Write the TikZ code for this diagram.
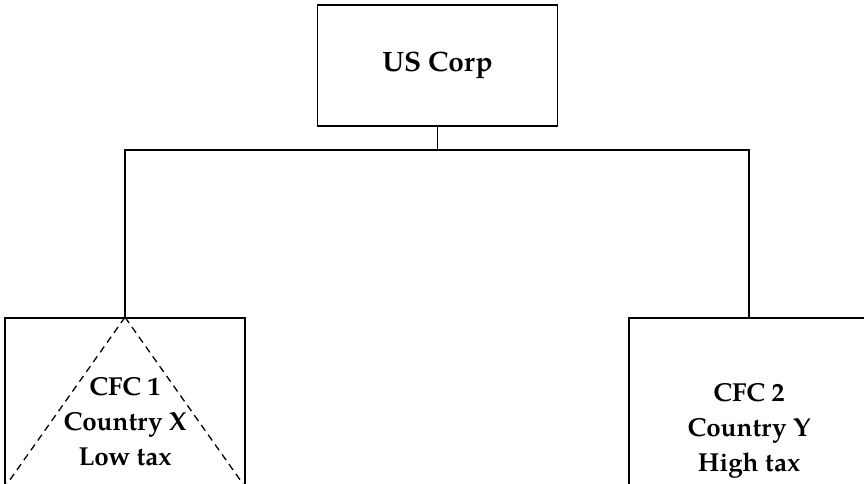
\documentclass[tikz,border=0pt]{standalone}
\usepackage{fontspec}
\setmainfont{texgyrepagella}[Extension=.otf, UprightFont=*-regular, BoldFont=*-bold, ItalicFont=*-italic, BoldItalicFont=*-bolditalic]
\begin{document}
\begin{tikzpicture}[x=1pt,y=-1pt,
  box/.style={draw, line width=1.6pt, minimum width=240pt, inner sep=0pt, align=center,
    font=\fontsize{26}{35}\selectfont\bfseries},
  conn/.style={line width=1.5pt},
  dashconn/.style={line width=1.3pt, dash pattern=on 7pt off 5pt}]
\useasboundingbox (0,0) rectangle (864,484);
\clip (0,0) rectangle (864,484);
\node[box, minimum height=121pt, font=\fontsize{28}{35}\selectfont\bfseries] (us) at (437.5,65.5) {US Corp};
\node[box, minimum height=208pt] (cfc1) at (125,422) {CFC 1\\Country X\\Low tax};
\node[box, minimum height=226pt] (cfc2) at (749,431) {CFC 2\\Country Y\\High tax};
\coordinate (j) at (437.5,150);
\coordinate (dl) at (7,484);
\coordinate (dr) at (243,484);
\draw[conn] (us.south) -- (j);
\draw[conn] (j) -| (cfc1.north);
\draw[conn] (j) -| (cfc2.north);
\draw[dashconn] (cfc1.north) -- (dl);
\draw[dashconn] (cfc1.north) -- (dr);
\end{tikzpicture}
\end{document}
